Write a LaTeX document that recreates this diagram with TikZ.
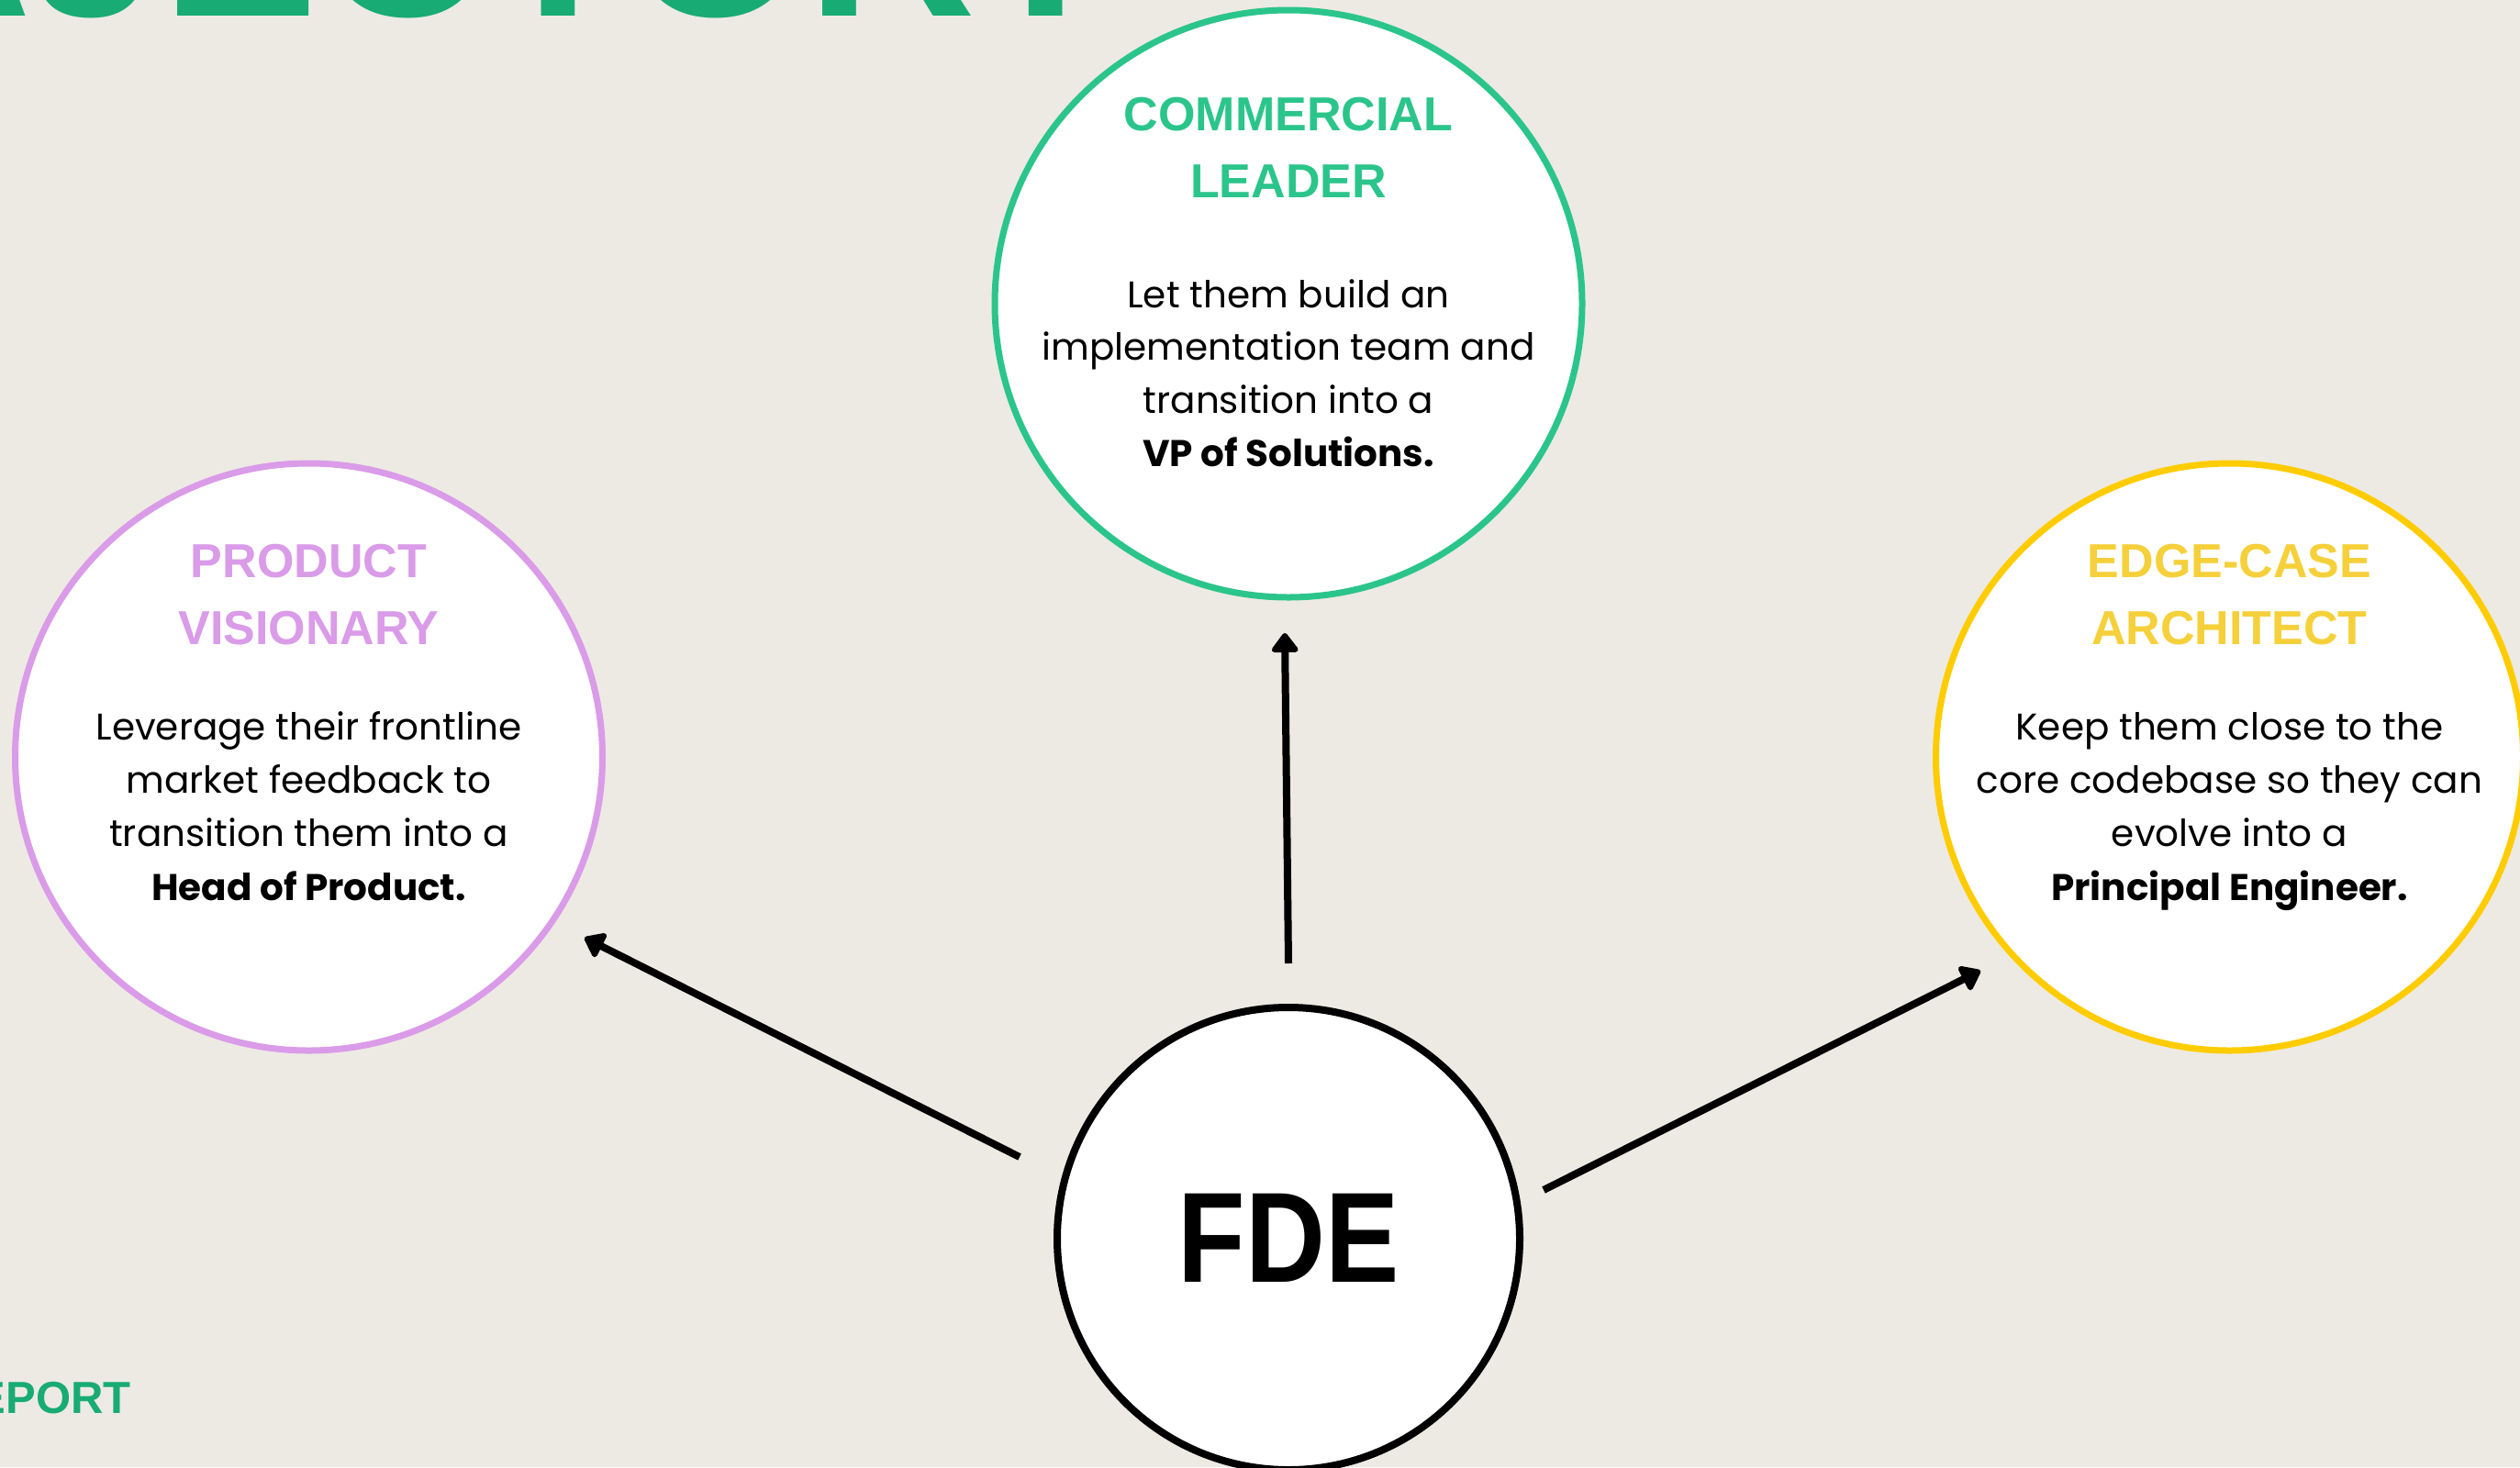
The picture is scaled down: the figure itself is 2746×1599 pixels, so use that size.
\documentclass[tikz,border=0pt]{standalone}
\usepackage{fontspec}
\usepackage{graphicx}
\setmainfont{Poppins}
\newfontfamily\headfont{Liberation Sans}
\usetikzlibrary{arrows.meta}

\definecolor{paper}{HTML}{EDEAE3}
\definecolor{titlegreen}{HTML}{18AB74}
\definecolor{leadgreen}{HTML}{2BC58B}
\definecolor{lilac}{HTML}{DA9BE8}
\definecolor{amber}{HTML}{FFCC00}
\definecolor{amberhead}{HTML}{F5D03A}

\tikzset{
  role/.style={circle, fill=white, line width=7pt, minimum size=640pt, inner sep=0pt},
  core/.style={circle, fill=white, draw=black, line width=8pt, minimum size=504pt, inner sep=0pt},
  headline/.style={anchor=base, inner sep=0pt, font=\headfont\bfseries\fontsize{52}{60}\selectfont},
  bodyline/.style={anchor=base, inner sep=0pt, font=\fontsize{40.5}{55}\selectfont},
  link/.style={line width=8pt, line cap=butt, -{Triangle[round, length=23pt, width=33pt]}},
  bigtitle/.style={anchor=base east, inner sep=0pt, text=titlegreen, font=\headfont\bfseries\fontsize{255}{260}\selectfont},
  footer/.style={anchor=base east, inner sep=0pt, text=titlegreen, font=\headfont\bfseries\fontsize{49}{55}\selectfont}
}

\begin{document}
\begin{tikzpicture}[x=1pt, y=-1pt]
\useasboundingbox (0,0) rectangle (2746,1599);
\clip (0,0) rectangle (2746,1599);
\fill[paper] (0,0) rectangle (2746,1599);

% page title and footer, running off the page edges
\node[bigtitle] (title) at (1225,17) {TRAJECTORY};
\node[footer] (foot) at (143,1540) {REPORT};

% the three roles
\node[role, draw=leadgreen] (lead) at (1404,331) {};
\node[role, draw=lilac] (prod) at (336.5,825) {};
\node[role, draw=amber] (arch) at (2429.5,825) {};

% the starting role
\node[core] (fde) at (1404,1350) {};
\node[anchor=base, inner sep=0pt, font=\headfont\bfseries\fontsize{140}{150}\selectfont] (fdetxt) at (1404,1397) {\scalebox{0.86}[1]{FDE}};

% commercial leader
\node[headline, text=leadgreen] (lead-h1) at (1404,142) {COMMERCIAL};
\node[headline, text=leadgreen] (lead-h2) at (1404,215.5) {LEADER};
\node[bodyline] (lead-b1) at (1404,335) {Let them build an};
\node[bodyline] (lead-b2) at (1404,392) {implementation team and};
\node[bodyline] (lead-b3) at (1404,450) {transition into a};
\node[bodyline] (lead-b4) at (1404,508) {\bfseries VP of Solutions.};

% product visionary
\node[headline, text=lilac] (prod-h1) at (336.5,629) {PRODUCT};
\node[headline, text=lilac] (prod-h2) at (336.5,702.5) {VISIONARY};
\node[bodyline] (prod-b1) at (336.5,806.5) {Leverage their frontline};
\node[bodyline] (prod-b2) at (336.5,864) {market feedback to};
\node[bodyline] (prod-b3) at (336.5,922.4) {transition them into a};
\node[bodyline] (prod-b4) at (336.5,981) {\bfseries Head of Product.};

% edge-case architect
\node[headline, text=amberhead] (arch-h1) at (2429.5,629) {EDGE-CASE};
\node[headline, text=amberhead] (arch-h2) at (2429.5,702.5) {ARCHITECT};
\node[bodyline] (arch-b1) at (2429.5,806.5) {Keep them close to the};
\node[bodyline] (arch-b2) at (2429.5,864) {core codebase so they can};
\node[bodyline] (arch-b3) at (2429.5,922.4) {evolve into a};
\node[bodyline] (arch-b4) at (2429.5,981) {\bfseries Principal Engineer.};

% arrow ends
\coordinate (up-s) at (1404,1050);
\coordinate (up-e) at (1400,690);
\coordinate (left-s) at (1111,1261);
\coordinate (left-e) at (637,1022);
\coordinate (right-s) at (1682,1297);
\coordinate (right-e) at (2158,1058);

\draw[link] (up-s) -- (up-e);
\draw[link] (left-s) -- (left-e);
\draw[link] (right-s) -- (right-e);
\end{tikzpicture}
\end{document}
